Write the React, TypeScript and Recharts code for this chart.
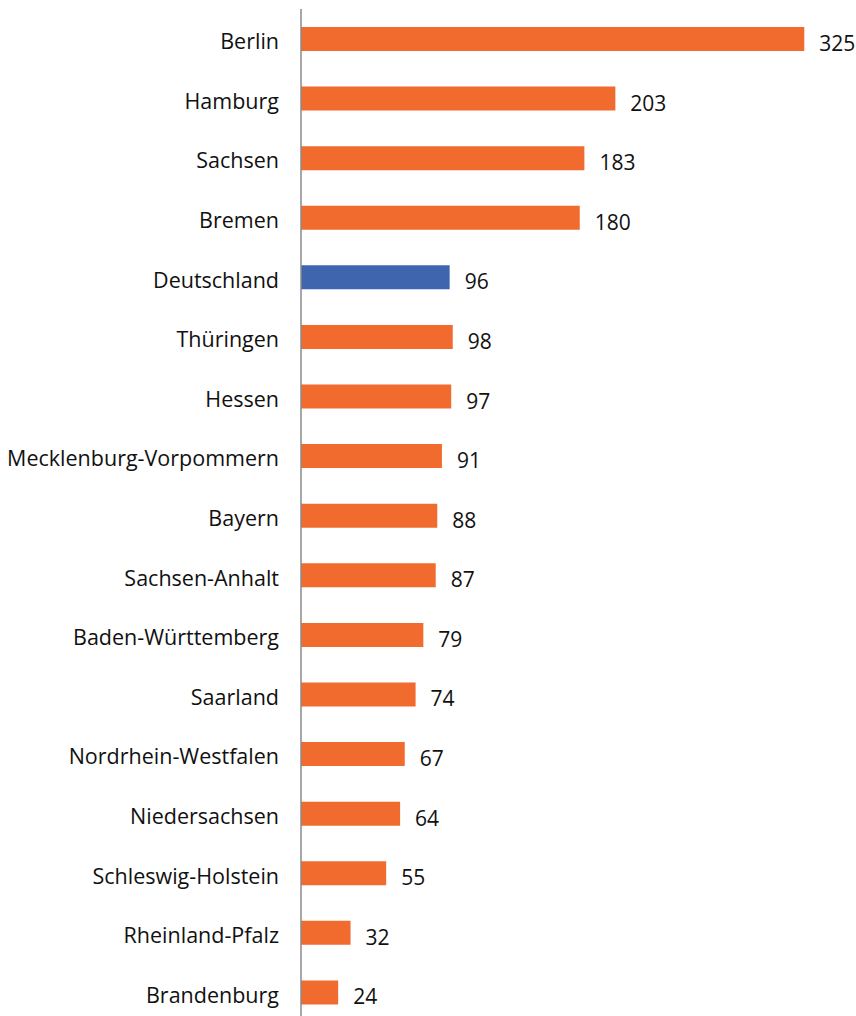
import React from "react"
import {BarChart, Bar, XAxis, YAxis, Cell, LabelList} from 'recharts';

const regions = ['Berlin', 'Hamburg', 'Sachsen', 'Bremen', 'Deutschland', 'Thüringen', 'Hessen',
    'Mecklenburg-Vorpommern', 'Bayern', 'Sachsen-Anhalt', 'Baden-Württemberg', 'Saarland',
    'Nordrhein-Westfalen', 'Niedersachsen', 'Schleswig-Holstein', 'Rheinland-Pfalz', 'Brandenburg'];
const values = [325, 203, 183, 180, 96, 98, 97, 91, 88, 87, 79, 74, 67, 64, 55, 32, 24];
const highlighted = ['Deutschland'];

const data = regions.map((name, i) => ({name, value: values[i]}));

const ORANGE = '#F26B2E';
const BLUE = '#3F65AF';
const FONT = '"Open Sans", Lato, sans-serif';

const ValueLabel = (props: any) => {
    const {x, y, width, height, value} = props;
    return (
        <text x={x + width + 15} y={y + height / 2 + 4} dominantBaseline="central"
              fontFamily={FONT} fontSize={21} fill="#111">
            {value}
        </text>
    );
};

const RegionTick = (props: any) => {
    const {x, y, payload} = props;
    return (
        <text x={x} y={y + 2} textAnchor="end" dominantBaseline="central"
              fontFamily={FONT} fontSize={21.5} fill="#111">
            {payload.value}
        </text>
    );
};

const App = () => {
    return (
        <div style={{position: 'absolute', left: 0, top: 0, width: 856, height: 1016, overflow: 'hidden', background: '#fff'}}>
            <BarChart layout="vertical" width={856} height={1032} data={data}
                      margin={{top: 9, right: 13, bottom: 10, left: 0}}>
                <XAxis type="number" domain={[0, 350]} hide />
                <YAxis type="category" dataKey="name" width={301} interval={0}
                       axisLine={{stroke: '#8a8a8a', strokeWidth: 1.5}} tickLine={false} tickMargin={16}
                       tick={<RegionTick />} />
                <Bar dataKey="value" barSize={24} isAnimationActive={false}>
                    {data.map((d) => (
                        <Cell key={d.name} fill={highlighted.includes(d.name) ? BLUE : ORANGE} />
                    ))}
                    <LabelList dataKey="value" content={ValueLabel} />
                </Bar>
            </BarChart>
        </div>
    )
};

export default App;
